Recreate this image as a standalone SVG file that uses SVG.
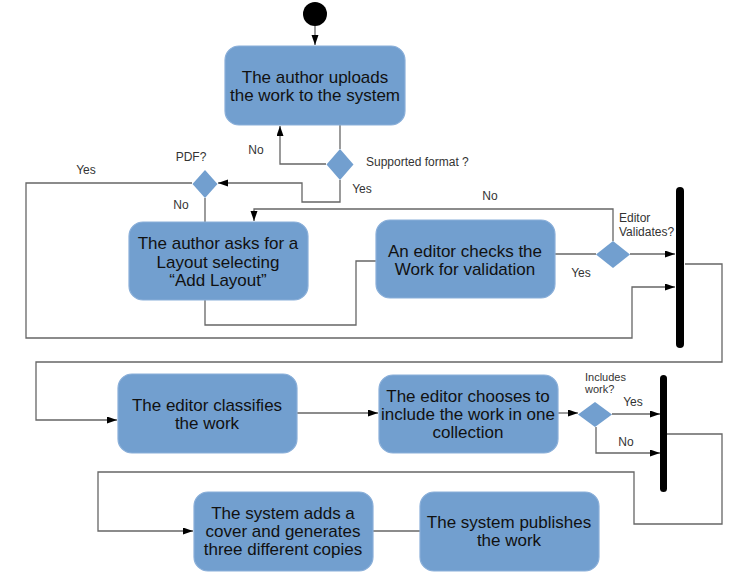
<svg xmlns="http://www.w3.org/2000/svg" width="750" height="579" viewBox="0 0 750 579">
<defs>
<marker id="arr" markerUnits="userSpaceOnUse" markerWidth="11" markerHeight="8" refX="10" refY="3.5" orient="auto">
<path d="M0,0 L10,3.5 L0,7 z" fill="#000"/>
</marker>
<style>
.box{fill:#729fcf;stroke:#8aafd9;stroke-width:1.2}
.dia{fill:#729fcf;stroke:none}
.bt{font-family:"Liberation Sans",Arial,sans-serif;font-size:17px;fill:#111;text-anchor:middle}
.lb{font-family:"Liberation Sans",Arial,sans-serif;font-size:12px;fill:#333}
.c{text-anchor:middle}
.ln{fill:none;stroke:#666;stroke-width:1.3}
.bar{fill:#000}
</style>
</defs>
<rect width="750" height="579" fill="#fff"/>
<g id="connectors">
<path class="ln" d="M315,26 V45" marker-end="url(#arr)"/>
<path class="ln" d="M340,125 V149"/>
<path class="ln" d="M326,164 H280 V126" marker-end="url(#arr)"/>
<path class="ln" d="M340,180 V202 H302 V183 H218" marker-end="url(#arr)"/>
<path class="ln" d="M192,183 H26 V338 H632 V287 H675" marker-end="url(#arr)"/>
<path class="ln" d="M205,198 V222"/>
<path class="ln" d="M205,300 V325 H356 V261 H377"/>
<path class="ln" d="M555,254 H596"/>
<path class="ln" d="M630,254 H675" marker-end="url(#arr)"/>
<path class="ln" d="M613,241 V209 H254 V221" marker-end="url(#arr)"/>
<path class="ln" d="M685,264 H722 V362 H36 V420 H117" marker-end="url(#arr)"/>
<path class="ln" d="M297,413 H378" marker-end="url(#arr)"/>
<path class="ln" d="M558,413 H578" marker-end="url(#arr)"/>
<path class="ln" d="M612,414 H660" marker-end="url(#arr)"/>
<path class="ln" d="M596,427 V453 H660" marker-end="url(#arr)"/>
<path class="ln" d="M667,434 H722 V524 H634 V472 H98 V531 H193" marker-end="url(#arr)"/>
<path class="ln" d="M373,531 H420"/>
</g>
<g id="start"><circle cx="315" cy="14" r="12" fill="#000"/></g>
<g id="n1">
<rect class="box" x="225" y="46" width="180" height="79" rx="14"/>
<text class="bt" x="315" y="83">The author uploads</text>
<text class="bt" x="315" y="101">the work to the system</text>
</g>
<g id="d1">
<path class="dia" d="M340,149 L353.5,164.5 L340,180 L326.5,164.5 z"/>
<text class="lb" x="366" y="166">Supported format ?</text>
</g>
<g id="d2">
<path class="dia" d="M205,170 L217.5,184 L205,198 L192.5,184 z"/>
<text class="lb c" x="191" y="161">PDF?</text>
</g>
<g id="n2">
<rect class="box" x="129" y="222" width="179" height="78" rx="14"/>
<text class="bt" x="218" y="249">The author asks for a</text>
<text class="bt" x="218" y="268">Layout selecting</text>
<text class="bt" x="218" y="286">“Add Layout”</text>
</g>
<g id="n3">
<rect class="box" x="376" y="220" width="179" height="78" rx="14"/>
<text class="bt" x="465" y="257">An editor checks the</text>
<text class="bt" x="465" y="275">Work for validation</text>
</g>
<g id="d3">
<path class="dia" d="M613,241 L630,254.5 L613,268 L596,254.5 z"/>
<text class="lb" x="619" y="222">Editor</text>
<text class="lb" x="619" y="236">Validates?</text>
</g>
<g id="bar1"><rect class="bar" x="676" y="187" width="8" height="161" rx="4"/></g>
<g id="n4">
<rect class="box" x="118" y="374" width="179" height="79" rx="14"/>
<text class="bt" x="207" y="411">The editor classifies</text>
<text class="bt" x="207" y="429">the work</text>
</g>
<g id="n5">
<rect class="box" x="379" y="375" width="179" height="78" rx="14"/>
<text class="bt" x="468" y="402">The editor chooses to</text>
<text class="bt" x="468" y="420">include the work in one</text>
<text class="bt" x="468" y="438">collection</text>
</g>
<g id="d4">
<path class="dia" d="M595,402 L612,414.5 L595,427 L578,414.5 z"/>
<text class="lb" x="585" y="381" style="font-size:11px">Includes</text>
<text class="lb" x="585" y="393" style="font-size:11px">work?</text>
</g>
<g id="bar2"><rect class="bar" x="660" y="375" width="7" height="117" rx="3.5"/></g>
<g id="n6">
<rect class="box" x="194" y="492" width="179" height="79" rx="14"/>
<text class="bt" x="283" y="519">The system adds a</text>
<text class="bt" x="283" y="537">cover and generates</text>
<text class="bt" x="283" y="555">three different copies</text>
</g>
<g id="n7">
<rect class="box" x="420" y="492" width="179" height="79" rx="14"/>
<text class="bt" x="509" y="528">The system publishes</text>
<text class="bt" x="509" y="546">the work</text>
</g>
<g id="labels">
<text class="lb c" x="256" y="154">No</text>
<text class="lb c" x="362" y="193">Yes</text>
<text class="lb c" x="86" y="174">Yes</text>
<text class="lb c" x="181" y="209">No</text>
<text class="lb c" x="490" y="200">No</text>
<text class="lb c" x="581" y="277">Yes</text>
<text class="lb c" x="633" y="406">Yes</text>
<text class="lb c" x="626" y="446">No</text>
</g>
</svg>
